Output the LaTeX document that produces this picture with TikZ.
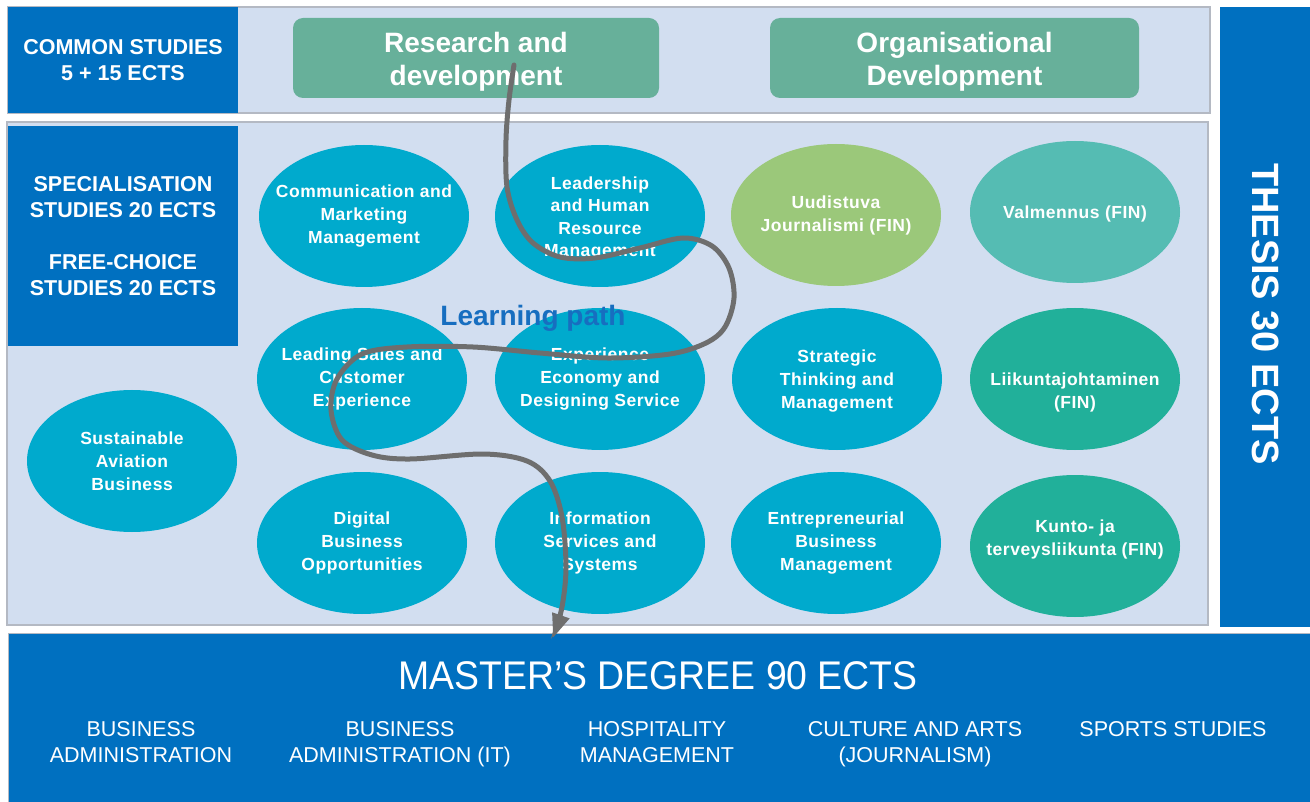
\documentclass[tikz,border=0pt]{standalone}
\usepackage{fontspec}
\setmainfont{Liberation Sans}
\usetikzlibrary{shapes.geometric,arrows.meta}
\definecolor{dblue}{RGB}{0,112,192}
\definecolor{lband}{RGB}{210,222,240}
\definecolor{bandline}{RGB}{180,185,195}
\definecolor{rdgreen}{RGB}{103,176,154}
\definecolor{ellblue}{RGB}{0,170,205}
\definecolor{ellgreen}{RGB}{155,200,122}
\definecolor{elltealL}{RGB}{85,188,179}
\definecolor{ellteal}{RGB}{33,176,154}
\definecolor{pathgray}{RGB}{110,110,110}
\definecolor{lpblue}{RGB}{23,110,192}
\tikzset{
  lightband/.style={fill=lband, draw=bandline, line width=1.2pt, inner sep=0pt},
  bluebox/.style={fill=dblue, draw=none, inner sep=0pt, text=white, align=center},
  rdbox/.style={fill=rdgreen, draw=none, rounded corners=10pt, inner sep=0pt, minimum height=80pt},
  rdtext/.style={text=white, align=center, font=\fontsize{28}{33}\selectfont\bfseries, yshift=-4pt},
  course/.style={ellipse, minimum width=210pt, minimum height=142pt, inner sep=0pt, fill=ellblue},
  ctext/.style={text=white, align=center, inner sep=0pt,
    font=\fontsize{17.5}{23}\selectfont\bfseries\addfontfeature{LetterSpace=3}},
  hdr/.style={font=\fontsize{21.5}{26}\selectfont\bfseries},
  prog/.style={text=white, align=center, font=\fontsize{21.5}{26}\selectfont},
  lpath/.style={draw=pathgray, line width=5pt, line cap=round, -{Triangle[length=24pt,width=17pt]}}
}
\begin{document}
\begin{tikzpicture}[x=1pt,y=-1pt]
\useasboundingbox (0,0) rectangle (1310,802);
\fill[white] (0,0) rectangle (1310,802);

% bands
\node[lightband, minimum width=1202pt, minimum height=106pt] (topband) at (609,60) {};
\node[lightband, minimum width=1201pt, minimum height=503pt] (midband) at (607.5,373.5) {};
\node[bluebox, hdr, minimum width=230pt, minimum height=106pt] (common) at (123,60)
  {COMMON STUDIES\\5 + 15 ECTS};
\node[bluebox, hdr, minimum width=230pt, minimum height=220pt] (spec) at (123,236)
  {SPECIALISATION\\STUDIES 20 ECTS\\[26pt]FREE-CHOICE\\STUDIES 20 ECTS};
\node[bluebox, minimum width=90pt, minimum height=620pt] (thesis) at (1265,317) {};
\node[text=white, font=\fontsize{38}{40}\selectfont\bfseries, rotate=-90] (thesistext) at (1266,314) {THESIS 30 ECTS};
\node[bluebox, draw=bandline, line width=1pt, minimum width=1302pt, minimum height=169pt] (master) at (659,717.5) {};
\node[text=white, font=\fontsize{40}{44}\selectfont] (mtitle) at (658,676) {\scalebox{0.935}[1]{MASTER’S DEGREE 90 ECTS}};

% programmes
\node[prog] (p1) at (141,742) {BUSINESS\\ADMINISTRATION};
\node[prog] (p2) at (400,744) {BUSINESS\\ADMINISTRATION (IT)};
\node[prog] (p3) at (657,742) {HOSPITALITY\\MANAGEMENT};
\node[prog] (p4) at (915,744) {CULTURE AND ARTS\\(JOURNALISM)};
\node[prog] (p5) at (1173,729) {SPORTS STUDIES};

% common studies boxes
\node[rdbox, minimum width=366pt, label={[rdtext]center:Research and\\development}] (rd) at (476,58) {};
\node[rdbox, minimum width=369pt, label={[rdtext]center:Organisational\\Development}] (org) at (954.5,58) {};

% courses
\node[course, label={[ctext]center:Communication and\\Marketing\\Management}] (comm) at (364,216) {};
\node[course, label={[ctext, font=\fontsize{17.5}{22.5}\selectfont\bfseries\addfontfeature{LetterSpace=3}, yshift=-2.5pt]center:Leadership\\and Human\\Resource\\Management}] (lead) at (600,216) {};
\node[course, fill=ellgreen, label={[ctext]center:Uudistuva\\Journalismi (FIN)}] (uud) at (836,215) {};
\node[course, fill=elltealL, label={[ctext, yshift=-2pt]center:Valmennus (FIN)}] (valm) at (1075,212) {};
\node[course, label={[ctext]center:Leading Sales and\\Customer\\Experience}] (sales) at (362,379) {};
\node[course, label={[ctext]center:Experience\\Economy and\\Designing Service}] (exp) at (600,379) {};
\node[course, label={[ctext, yshift=-2pt]center:Strategic\\Thinking and\\Management}] (strat) at (837,379) {};
\node[course, fill=ellteal, label={[ctext, yshift=-13pt]center:Liikuntajohtaminen\\(FIN)}] (liik) at (1075,379) {};
\node[course, label={[ctext]center:Sustainable\\Aviation\\Business}] (sust) at (132,461) {};
\node[course, label={[ctext]center:Digital\\Business\\Opportunities}] (dig) at (362,543) {};
\node[course, label={[ctext]center:Information\\Services and\\Systems}] (info) at (600,543) {};
\node[course, label={[ctext]center:Entrepreneurial\\Business\\Management}] (entr) at (836,543) {};
\node[course, fill=ellteal, label={[ctext, yshift=6.5pt]center:Kunto- ja\\terveysliikunta (FIN)}] (kunto) at (1075,546) {};

\node[text=lpblue, font=\fontsize{28}{30}\selectfont\bfseries] (lp) at (533,318) {Learning path};

% learning path
\coordinate (pstart) at (514,65);
\coordinate (pend) at (553,638);
\draw[lpath] plot[smooth, tension=0.55] coordinates {
 (pstart) (509,100) (506,140) (507,187) (517,220) (533,243) (560,257) (595,258)
 (640,248) (683,238) (712,246) (729,268) (734,298) (725,327) (706,343) (670,354)
 (607,358) (540,353) (473,347) (407,347) (362,354) (337,379) (331,410) (342,440)
 (372,455) (410,459) (483,454) (527,461) (550,481) (562,517) (566,567) (562,607) (pend)};
\end{tikzpicture}
\end{document}
